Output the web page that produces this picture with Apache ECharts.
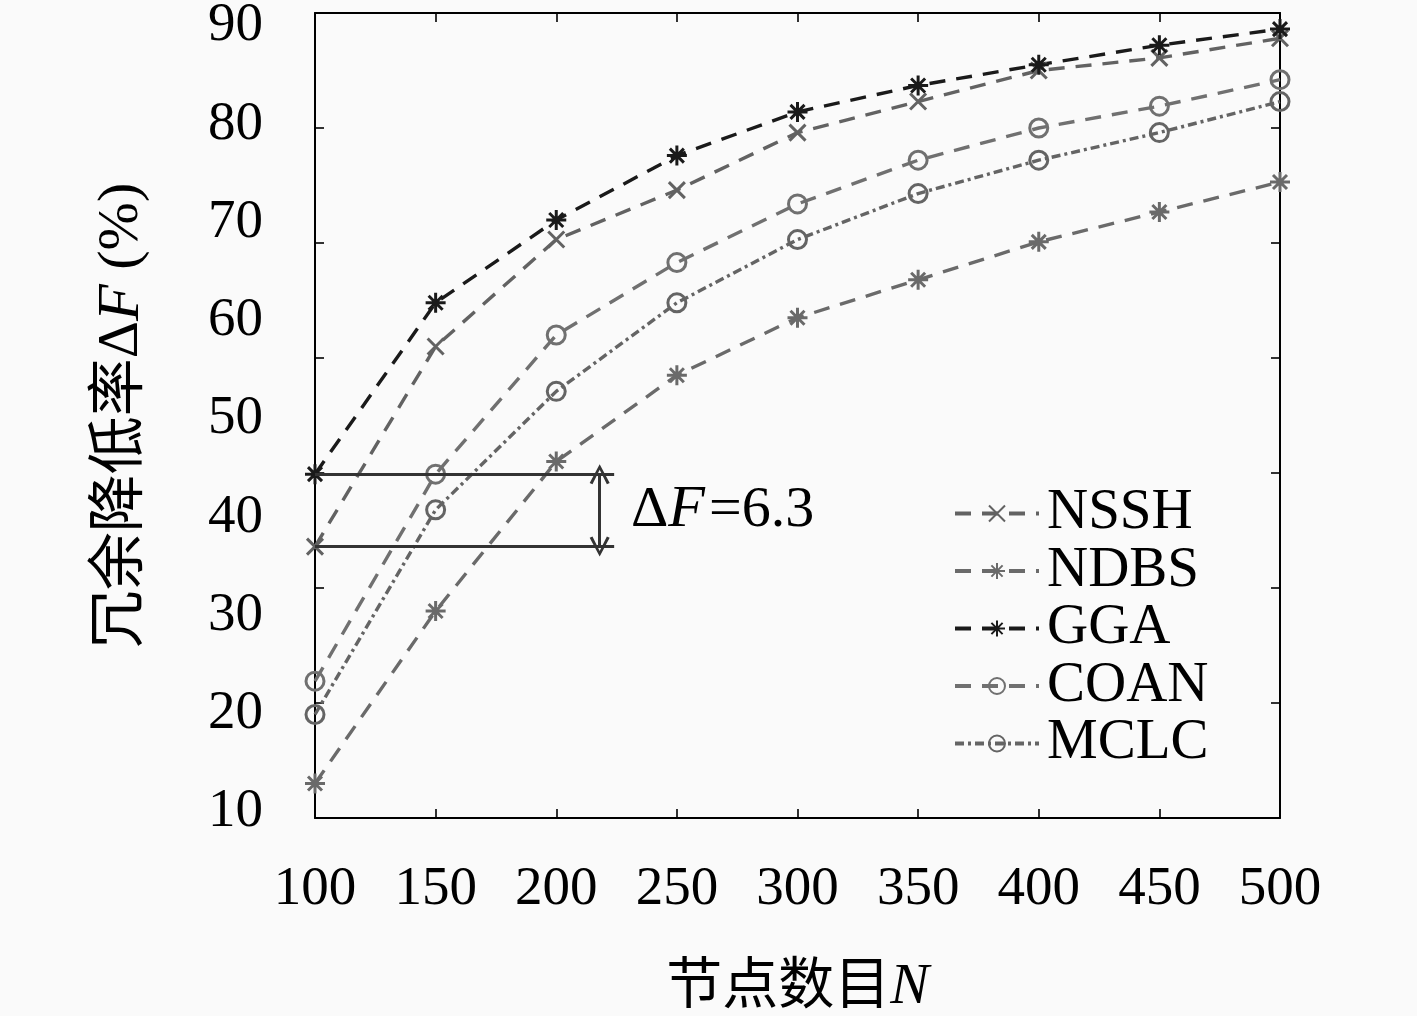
<!DOCTYPE html>
<html>
<head>
<meta charset="utf-8">
<title>冗余降低率</title>
<script src="https://cdn.jsdelivr.net/npm/echarts@6/dist/echarts.min.js"></script>
<style>
  html, body { margin: 0; padding: 0; background: #fafafa; }
  #chart { width: 1417px; height: 1016px; }
</style>
</head>
<body>
<div id="chart"></div>
<script>
// node count N
var nodes = [100, 150, 200, 250, 300, 350, 400, 450, 500];

// redundancy reduction rate (%) per method
var nssh = [43.6, 61.0, 70.3, 74.6, 79.6, 82.3, 85.0, 86.1, 87.8];
var ndbs = [23.0, 38.0, 51.0, 58.5, 63.5, 66.8, 70.1, 72.7, 75.3];
var gga  = [49.9, 64.8, 72.0, 77.6, 81.4, 83.7, 85.5, 87.2, 88.6];
var coan = [31.9, 49.9, 62.0, 68.3, 73.4, 77.2, 80.0, 81.9, 84.2];
var mclc = [29.0, 46.8, 57.1, 64.8, 70.3, 74.3, 77.2, 79.6, 82.3];

// printed tick labels of the y axis
var yLabels = [10, 20, 30, 40, 50, 60, 70, 80, 90];

// the ΔF bracket between GGA and NSSH at N=100
var deltaFrom = 100, deltaTo = 224, deltaArrowX = 218, deltaTextX = 231;
var deltaText = 'Δ{i|F}=6.3';

var serif = "'Liberation Serif', 'Noto Sans CJK SC', serif";
var cross = 'path://M0,0L16,16M16,0L0,16';
var star = 'path://M10,0L10,20M0,10L20,10M3,3L17,17M17,3L3,17';
var vHead = 'path://M0,10L5,0L10,10L8.6,10.6L5,3L1.4,10.6Z';

function pairs(ys) {
    return nodes.map(function (x, i) { return [x, ys[i]]; });
}

function makeSeries(name, ys, color, symbol, size, dash, hollow) {
    return {
        name: name,
        type: 'line',
        data: pairs(ys),
        symbol: symbol,
        symbolSize: size,
        showAllSymbol: true,
        lineStyle: { color: color, width: 3.4, type: dash },
        itemStyle: {
            color: hollow ? 'rgba(0,0,0,0)' : color,
            borderColor: color,
            borderWidth: 3
        },
        emphasis: { disabled: true },
        silent: true
    };
}

var chart = echarts.init(document.getElementById('chart'));

var series = [
    makeSeries('NSSH', nssh, '#626262', cross, 16, [16, 11], false),
    makeSeries('NDBS', ndbs, '#6a6a6a', star, 20, [16, 11], false),
    makeSeries('GGA', gga, '#1a1a1a', star, 20, [16, 11], false),
    makeSeries('COAN', coan, '#707070', 'circle', 18, [16, 11], true),
    makeSeries('MCLC', mclc, '#646464', 'circle', 18, [9, 4, 3, 4], true)
];

// bracket lines, arrow and its text
series.push({
    name: 'delta',
    type: 'line',
    data: [],
    silent: true,
    markLine: {
        silent: true,
        symbol: ['none', 'none'],
        label: { show: false },
        lineStyle: { color: '#333333', width: 3, type: 'solid' },
        data: [
            [{ coord: [deltaFrom, gga[0]] }, { coord: [deltaTo, gga[0]] }],
            [{ coord: [deltaFrom, nssh[0]] }, { coord: [deltaTo, nssh[0]] }],
            [{ coord: [deltaArrowX, nssh[0]], symbol: vHead, symbolSize: [20, 20] },
             { coord: [deltaArrowX, gga[0]], symbol: vHead, symbolSize: [20, 20] }]
        ]
    },
    markPoint: {
        silent: true,
        symbol: 'circle',
        symbolSize: 0,
        data: [{ coord: [deltaTextX, (gga[0] + nssh[0]) / 2] }],
        label: {
            show: true,
            position: 'right',
            distance: 0,
            formatter: deltaText,
            color: '#000',
            fontFamily: serif,
            fontSize: 58,
            rich: { i: { fontStyle: 'italic', fontFamily: serif, fontSize: 60, color: '#000', padding: [0, 4, 0, 0] } }
        }
    }
});

var tickStyle = { show: true, inside: true, length: 9, lineStyle: { color: '#000', width: 1.6 } };
var lineStyle = { show: true, lineStyle: { color: '#000', width: 2 } };

var option = {
    backgroundColor: '#fafafa',
    animation: false,
    grid: { left: 315, right: 137, top: 13, bottom: 198, containLabel: false, outerBoundsMode: 'none' },
    legend: {
        orient: 'vertical',
        left: 948,
        top: 480,
        itemWidth: 84,
        itemHeight: 20,
        itemGap: 0.5,
        selectedMode: false,
        data: ['NSSH', 'NDBS', 'GGA', 'COAN', 'MCLC'],
        lineStyle: { width: 4 },
        textStyle: {
            color: '#000',
            fontFamily: serif,
            fontSize: 57,
            padding: [0, 0, 0, 3]
        }
    },
    xAxis: [{
        type: 'value',
        position: 'bottom',
        min: 100,
        max: 500,
        interval: 50,
        name: '节点数目{i|N}',
        nameLocation: 'middle',
        nameGap: 141,
        nameTextStyle: {
            color: '#000',
            fontFamily: serif,
            fontSize: 56,
            rich: { i: { fontStyle: 'italic', fontFamily: serif, fontSize: 58, color: '#000' } }
        },
        axisLine: lineStyle,
        axisTick: tickStyle,
        splitLine: { show: false },
        axisLabel: { color: '#000', fontFamily: serif, fontSize: 55, margin: 44 }
    }, {
        type: 'value',
        position: 'top',
        min: 100,
        max: 500,
        interval: 50,
        axisLine: lineStyle,
        axisTick: tickStyle,
        splitLine: { show: false },
        axisLabel: { show: false }
    }],
    yAxis: [{
        // scale the marks are drawn on
        type: 'value',
        position: 'left',
        min: 20,
        max: 90,
        interval: 10,
        axisLine: lineStyle,
        axisTick: tickStyle,
        splitLine: { show: false },
        axisLabel: { show: false }
    }, {
        type: 'value',
        position: 'right',
        min: 20,
        max: 90,
        interval: 10,
        axisLine: lineStyle,
        axisTick: tickStyle,
        splitLine: { show: false },
        axisLabel: { show: false }
    }, {
        // printed labels, spaced as in the figure
        type: 'value',
        position: 'left',
        min: 9.39,
        max: 91.32,
        axisLine: { show: false },
        axisTick: { show: false },
        splitLine: { show: false },
        axisLabel: {
            customValues: yLabels,
            color: '#000',
            fontFamily: serif,
            fontSize: 55,
            margin: 52
        },
        name: '冗余降低率Δ{i|F} (%)',
        nameLocation: 'middle',
        nameGap: 163,
        nameTextStyle: {
            color: '#000',
            fontFamily: serif,
            fontSize: 58,
            rich: { i: { fontStyle: 'italic', fontFamily: serif, fontSize: 60, color: '#000' } }
        }
    }],
    series: series
};

chart.setOption(option);
</script>
</body>
</html>
